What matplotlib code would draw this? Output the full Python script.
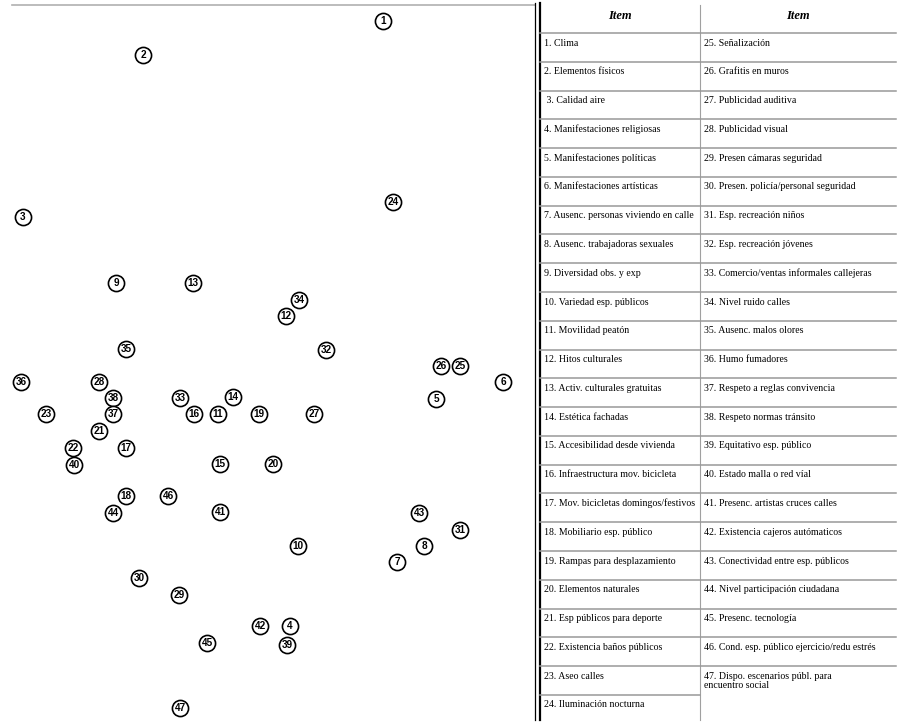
import matplotlib
matplotlib.use("Agg")
import matplotlib.pyplot as plt

# ---- data: item numbers and their map coordinates (dimension 1, dimension 2)
item_ids = [1, 2, 3, 24, 9, 13, 34, 12, 35, 32, 26, 25, 36, 28, 6, 38, 33, 14, 5,
            23, 37, 16, 11, 19, 27, 21, 22, 17, 40, 15, 20, 18, 46, 44, 41, 43,
            31, 10, 8, 7, 30, 29, 42, 4, 45, 39, 47]
dim1 = [1.15, -1.25, -2.45, 1.25, -1.52, -0.75, 0.31, 0.18, -1.42, 0.58, 1.73, 1.92,
        -2.47, -1.69, 2.35, -1.55, -0.88, -0.35, 1.68, -2.22, -1.55, -0.74, -0.50,
        -0.09, 0.46, -1.69, -1.95, -1.42, -1.94, -0.48, 0.05, -1.42, -1.00, -1.55,
        -0.48, 1.51, 1.92, 0.30, 1.56, 1.29, -1.29, -0.89, -0.08, 0.22, -0.61,
        0.19, -0.88]
dim2 = [3.41, 3.07, 1.45, 1.60, 0.79, 0.79, 0.62, 0.46, 0.13, 0.12, -0.04, -0.04,
        -0.20, -0.20, -0.20, -0.36, -0.36, -0.35, -0.37, -0.52, -0.52, -0.52, -0.52,
        -0.52, -0.52, -0.69, -0.86, -0.86, -1.03, -1.02, -1.02, -1.34, -1.34, -1.51,
        -1.50, -1.51, -1.68, -1.84, -1.84, -2.00, -2.16, -2.33, -2.64, -2.64, -2.81,
        -2.83, -3.46]

header = "Item"
left_items = [
    "1. Clima", "2. Elementos físicos", " 3. Calidad aire",
    "4. Manifestaciones religiosas", "5. Manifestaciones políticas",
    "6. Manifestaciones artísticas", "7. Ausenc. personas viviendo en calle",
    "8. Ausenc. trabajadoras sexuales", "9. Diversidad obs. y exp",
    "10. Variedad esp. públicos", "11. Movilidad peatón", "12. Hitos culturales",
    "13. Activ. culturales gratuitas", "14. Estética fachadas",
    "15. Accesibilidad desde vivienda", "16. Infraestructura mov. bicicleta",
    "17. Mov. bicicletas domingos/festivos", "18. Mobiliario esp. público",
    "19. Rampas para desplazamiento", "20. Elementos naturales",
    "21. Esp públicos para deporte", "22. Existencia baños públicos",
    "23. Aseo calles", "24. Iluminación nocturna"]
right_items = [
    "25. Señalización", "26. Grafitis en muros", "27. Publicidad auditiva",
    "28. Publicidad visual", "29. Presen cámaras seguridad",
    "30. Presen. policía/personal seguridad", "31. Esp. recreación niños",
    "32. Esp. recreación jóvenes", "33. Comercio/ventas informales callejeras",
    "34. Nivel ruido calles", "35. Ausenc. malos olores", "36. Humo fumadores",
    "37. Respeto a reglas convivencia", "38. Respeto normas tránsito",
    "39. Equitativo esp. público", "40. Estado malla o red víal",
    "41. Presenc. artistas cruces calles", "42. Existencia cajeros autómaticos",
    "43. Conectividad entre esp. públicos", "44. Nivel participación ciudadana",
    "45. Presenc. tecnología", "46. Cond. esp. público ejercicio/redu estrés",
    "47. Dispo. escenarios públ. para\nencuentro social"]

W, H = 900, 727
fig = plt.figure(figsize=(W / 100, H / 100), dpi=100)

# ---- scatter map (left)
ax = fig.add_axes([0, 7 / H, 535 / W, 715 / H])
ax.set_xlim(-2.68, 2.67)
ax.set_ylim(-3.58, 3.57)
ax.axis("off")
ax.scatter(dim1, dim2, s=135, facecolor="white", edgecolor="black",
           linewidths=1.2, zorder=2)
for i, x, y in zip(item_ids, dim1, dim2):
    ax.text(x, y, str(i), ha="center", va="center", fontsize=7.2,
            fontweight="bold", family="Liberation Sans", zorder=3)

# ---- table (right), pixel coordinates
tx = fig.add_axes([0, 0, 1, 1], facecolor="none")
tx.set_xlim(0, W)
tx.set_ylim(H, 0)
tx.axis("off")

# frame lines
tx.plot([12, 535], [5, 5], color="#b0b0b0", lw=1.2)
tx.plot([535, 535], [3, 720], color="black", lw=0.9)
tx.plot([539.5, 539.5], [3, 720], color="black", lw=1.6)
tx.plot([700, 700], [5, 720], color="#a0a0a0", lw=0.8)

top = 33.0
rh = 28.78
x0, xm, x1 = 540, 700, 896
n_left = len(left_items)
for k in range(n_left):
    yk = top + k * rh
    xe = x1 if k < len(right_items) else xm
    tx.plot([x0, xe], [yk, yk], color="#999999", lw=1.1)

# headers
for xc in [(x0 + xm) / 2, (xm + x1) / 2]:
    tx.text(xc, 16, header, ha="center", va="center", fontsize=9,
            fontweight="bold", fontstyle="italic", family="Liberation Serif")

for k, lab in enumerate(left_items):
    tx.text(544, top + k * rh + 10, lab, ha="left", va="center",
            fontsize=7.1, family="Liberation Serif")
for k, lab in enumerate(right_items):
    tx.text(704, top + k * rh + 5.5, lab, ha="left", va="top",
            fontsize=7.1, family="Liberation Serif", linespacing=1.1)

fig.savefig("out.png", dpi=100)
